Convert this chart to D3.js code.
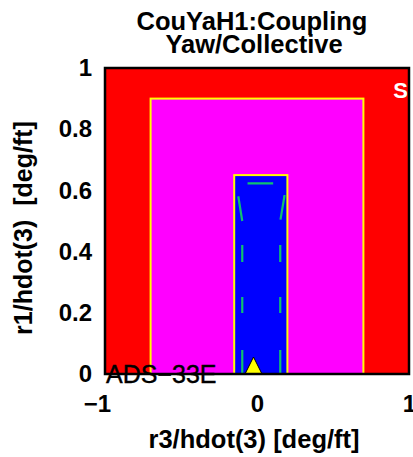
<!DOCTYPE html>
<html><head><meta charset="utf-8">
<script src="https://cdn.jsdelivr.net/npm/d3@7"></script>
<style>html,body{margin:0;padding:0;background:#fff;overflow:hidden}svg{display:block}text{font-family:"Liberation Sans",Arial,sans-serif;white-space:pre}</style>
</head><body>
<script>
const titleLines = ["CouYaH1:Coupling", "Yaw/Collective"];
const xLabel = "r3/hdot(3) [deg/ft]";
const yLabel = "r1/hdot(3)  [deg/ft]";
const xTicks = [-1, 0, 1];
const yTicks = [0, 0.2, 0.4, 0.6, 0.8, 1];
// Level regions: [x0, x1, y0, y1]
const regionNames = ["outer", "middle", "inner"];
const regionBounds = [[-1, 1, 0, 1], [-0.7, 0.7, 0, 0.9], [-0.15, 0.2, 0, 0.65]];
const regionFill = ["#ff0000", "#ff00ff", "#0000ff"];
const regionStroke = ["none", "#ffff00", "#ffff00"];
// Dashed boundary (lower straight sides, then upper cap)
const boundLeftX = [-0.097, -0.097];
const boundRightX = [0.153, 0.153];
const boundSideY = [0, 0.5];
const capX = [-0.097, -0.123, -0.128, -0.128, 0.184, 0.184, 0.18, 0.153];
const capY = [0.5, 0.58, 0.6, 0.623, 0.623, 0.6, 0.58, 0.5];
// Data point
const pointX = [-0.023];
const pointY = [0];
const levelLabel = "S";
const specLabel = "ADS\u221233E";

const W = 413, H = 457;
const svg = d3.select("body").append("svg").attr("width", W).attr("height", H);
const x = d3.scaleLinear().domain([-1, 1]).range([105, 409]);
const y = d3.scaleLinear().domain([0, 1]).range([374, 68]);

// regions
svg.selectAll("rect.region").data(regionBounds).join("rect")
  .attr("class", "region")
  .attr("x", d => x(d[0])).attr("y", d => y(d[3]))
  .attr("width", d => x(d[1]) - x(d[0])).attr("height", d => y(d[2]) - y(d[3]))
  .attr("fill", (d, i) => regionFill[i])
  .attr("stroke", (d, i) => regionStroke[i]).attr("stroke-width", 2);

const line = d3.line().x(d => x(d[0])).y(d => y(d[1]));
const green = "#10c070";
[boundLeftX, boundRightX].forEach(bx => {
  svg.append("path").attr("d", line(bx.map((v, i) => [v, boundSideY[i]])))
    .attr("fill", "none").attr("stroke", green).attr("stroke-width", 2.2)
    .attr("stroke-dasharray", "24,37,16,35,17,100");
});
svg.append("path").attr("d", line(capX.map((v, i) => [v, capY[i]])))
  .attr("fill", "none").attr("stroke", green).attr("stroke-width", 2.2)
  .attr("stroke-dasharray", "25,23,25.6,23.5,25");

// point marker
pointX.forEach((px, i) => {
  const cx = x(px), cy = y(pointY[i]);
  svg.append("path").attr("d", `M${cx - 8.5},${cy} L${cx},${cy - 17} L${cx + 8.5},${cy} Z`)
    .attr("fill", "#ffff00").attr("stroke", "#000").attr("stroke-width", 1);
});

// S label
svg.append("text").attr("x", x(1) - 1).attr("y", y(0.9) - 0.5).attr("text-anchor", "end")
  .attr("font-size", 22).attr("font-weight", "bold").attr("fill", "#fff").text(levelLabel);

// frame
svg.append("rect").attr("x", x(-1)).attr("y", y(1)).attr("width", x(1) - x(-1)).attr("height", y(0) - y(1))
  .attr("fill", "none").attr("stroke", "#000").attr("stroke-width", 2.5);

// spec label
svg.append("text").attr("x", x(-1) + 1).attr("y", y(0) + 9).attr("font-size", 25)
  .attr("fill", "#000").attr("stroke", "#000").attr("stroke-width", 0.4).text(specLabel);

// axes
const fmt = d => d === 0 ? "0" : (d < 0 ? "\u2212" + Math.abs(d) : String(d));
const xAxis = svg.append("g").attr("transform", `translate(0,${y(0)})`)
  .call(d3.axisBottom(x).tickValues(xTicks).tickSize(0).tickPadding(21).tickFormat(fmt));
const yAxis = svg.append("g").attr("transform", `translate(${x(-1)},0)`)
  .call(d3.axisLeft(y).tickValues(yTicks).tickSize(0).tickPadding(13).tickFormat(d3.format("")));
[xAxis, yAxis].forEach(g => {
  g.select(".domain").remove();
  g.selectAll("text").attr("font-size", 24).attr("font-weight", "bold").attr("fill", "#000")
    .attr("font-family", '"Liberation Sans",Arial,sans-serif');
});
xAxis.selectAll("text").filter(d => d < 0).attr("dx", -8);

// titles
svg.append("text").attr("x", 252).attr("y", 30).attr("text-anchor", "middle")
  .attr("font-size", 25.5).attr("font-weight", "bold").text(titleLines[0]);
svg.append("text").attr("x", 254).attr("y", 53).attr("text-anchor", "middle")
  .attr("font-size", 25.5).attr("font-weight", "bold").text(titleLines[1]);
svg.append("text").attr("x", 254).attr("y", 448).attr("text-anchor", "middle")
  .attr("font-size", 25.5).attr("font-weight", "bold").text(xLabel);
svg.append("text").attr("transform", "translate(32,228) rotate(-90)").attr("text-anchor", "middle")
  .attr("font-size", 25).attr("font-weight", "bold").text(yLabel);
</script>
</body></html>
